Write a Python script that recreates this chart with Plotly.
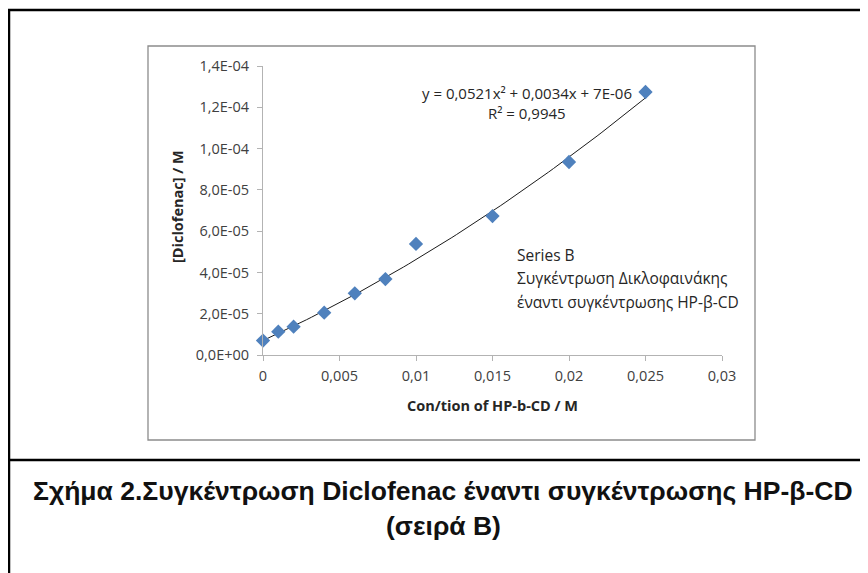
import numpy as np
import plotly.graph_objects as go

# ---- data ----
conc_hpbcd = [0, 0.001, 0.002, 0.004, 0.006, 0.008, 0.01, 0.015, 0.02, 0.025]
diclofenac = [7.0e-6, 1.13e-5, 1.37e-5, 2.05e-5, 2.99e-5, 3.68e-5, 5.38e-5, 6.73e-5, 9.35e-5, 1.274e-4]
fit_coeffs = [0.0521, 0.0034, 7e-06]  # from displayed trendline equation
x_tickvals = [0, 0.005, 0.01, 0.015, 0.02, 0.025, 0.03]
x_ticktext = ["0", "0,005", "0,01", "0,015", "0,02", "0,025", "0,03"]
y_tickvals = [0, 2e-5, 4e-5, 6e-5, 8e-5, 1e-4, 1.2e-4, 1.4e-4]
y_ticktext = ["0,0E+00", "2,0E-05", "4,0E-05", "6,0E-05", "8,0E-05", "1,0E-04", "1,2E-04", "1,4E-04"]
eq_text = "y = 0,0521x² + 0,0034x + 7E-06"
r2_text = "R² = 0,9945"
legend_lines = ["Series B", "Συγκέντρωση Δικλοφαινάκης", "έναντι συγκέντρωσης HP-β-CD"]
caption_lines = ["Σχήμα 2.Συγκέντρωση Diclofenac έναντι συγκέντρωσης HP-β-CD", "(σειρά B)"]

OFF = 8  # browser default body margin
W, H = 868 - OFF, 573 - OFF
PL, PR, PT, PB = 263 - OFF, 722 - OFF, 66 - OFF, 355 - OFF  # plot area in figure pixels


def px(x):
    return (x - OFF - PL) / (PR - PL)


def py(y):
    return (PB - (y - OFF)) / (PB - PT)


fit_x = np.linspace(0, max(conc_hpbcd), 80)
fit_y = np.polyval(fit_coeffs, fit_x)

fig = go.Figure()
fig.add_trace(go.Scatter(x=fit_x, y=fit_y, mode="lines",
                         line=dict(color="#1a1a1a", width=1), hoverinfo="skip", showlegend=False))
fig.add_trace(go.Scatter(x=conc_hpbcd, y=diclofenac, mode="markers", cliponaxis=False,
                         marker=dict(symbol="diamond", size=11, color="#4F81BD", line=dict(width=0)),
                         showlegend=False))

tick_font = dict(family="Open Sans", size=14.5, color="#404040")
axis_common = dict(showgrid=False, zeroline=False, showline=True, linecolor="#B3B3B3", linewidth=1,
                   ticks="outside", ticklen=5, tickcolor="#B3B3B3", tickwidth=1, tickfont=tick_font)

fig.update_layout(
    width=W, height=H, paper_bgcolor="white", plot_bgcolor="white",
    margin=dict(l=PL, r=W - PR, t=PT, b=H - PB),
    xaxis=dict(range=[0, 0.03], tickmode="array", tickvals=x_tickvals, ticktext=x_ticktext,
               ticklabelstandoff=3, **axis_common),
    yaxis=dict(range=[0, 1.4e-4], tickmode="array", tickvals=y_tickvals, ticktext=y_ticktext,
               ticklabelstandoff=5, **axis_common),
)

frame = dict(color="black", width=2.5)
shapes = [
    # outer black frame: left and top edges (right/bottom lie outside the picture)
    dict(type="line", xref="paper", yref="paper", x0=px(9), x1=px(9), y0=py(9), y1=py(573), line=frame),
    dict(type="line", xref="paper", yref="paper", x0=px(8), x1=px(868), y0=py(10), y1=py(10), line=frame),
    # caption separator
    dict(type="line", xref="paper", yref="paper", x0=px(9), x1=px(868), y0=py(460), y1=py(460), line=frame),
    # chart box
    dict(type="rect", xref="paper", yref="paper", x0=px(148), x1=px(755), y0=py(46), y1=py(440),
         line=dict(color="#8C8C8C", width=1.3), layer="below"),
]
fig.update_layout(shapes=shapes)

ann = []
lab_font = dict(family="Open Sans", size=15, color="#262626")
ann.append(dict(text=eq_text, x=px(527), y=py(93), xref="paper", yref="paper", showarrow=False,
                xanchor="center", yanchor="middle", font=lab_font))
ann.append(dict(text=r2_text, x=px(527), y=py(113), xref="paper", yref="paper", showarrow=False,
                xanchor="center", yanchor="middle", font=lab_font))
for t, yy in zip(legend_lines, [255, 278, 302]):
    ann.append(dict(text=t, x=px(515), y=py(yy), xref="paper", yref="paper", showarrow=False,
                    xanchor="left", yanchor="middle", font=dict(family="Open Sans", size=15.5, color="#262626")))
ann.append(dict(text="<b>[Diclofenac] / M</b>", x=px(177), y=py(207), xref="paper", yref="paper",
                showarrow=False, textangle=-90, xanchor="center", yanchor="middle",
                font=dict(family="Open Sans", size=14.5, color="#262626")))
ann.append(dict(text="<b>Con/tion of HP-b-CD / M</b>", x=px(492), y=py(405), xref="paper", yref="paper",
                showarrow=False, xanchor="center", yanchor="middle",
                font=dict(family="Open Sans", size=14.5, color="#262626")))
for t, yy in zip(caption_lines, [491, 526]):
    ann.append(dict(text="<b>" + t + "</b>", x=px(443), y=py(yy), xref="paper", yref="paper",
                    showarrow=False, xanchor="center", yanchor="middle",
                    font=dict(family="Liberation Sans", size=26.5, color="#111111")))
fig.update_layout(annotations=ann)

fig.write_html("out.html")
